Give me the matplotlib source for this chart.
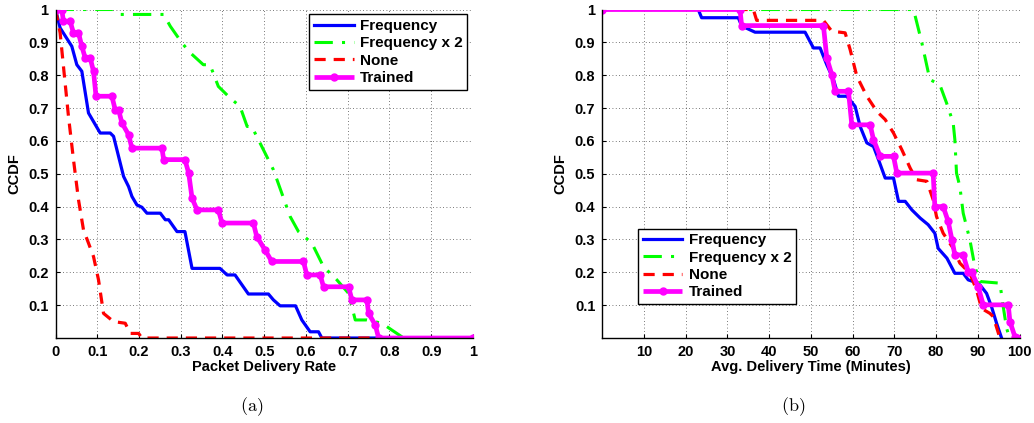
import matplotlib
matplotlib.use('Agg')
import matplotlib.pyplot as plt

plt.rcParams['font.family'] = ['Liberation Sans', 'DejaVu Sans']
plt.rcParams['font.weight'] = 'bold'
plt.rcParams['mathtext.fontset'] = 'cm'

# ---- (a) Packet delivery rate ----
pdr_freq_x = [0, 0.011, 0.039, 0.051, 0.063, 0.079, 0.107, 0.131, 0.139, 0.163, 0.175, 0.183,
              0.195, 0.207, 0.219, 0.251, 0.263, 0.271, 0.291, 0.310, 0.327, 0.394, 0.411, 0.430,
              0.462, 0.510, 0.522, 0.538, 0.575, 0.590, 0.610, 0.630, 0.638, 1.0]
pdr_freq_y = [1, 0.944, 0.888, 0.832, 0.812, 0.685, 0.624, 0.624, 0.614, 0.492, 0.461, 0.431,
              0.405, 0.398, 0.380, 0.380, 0.360, 0.360, 0.324, 0.324, 0.212, 0.212, 0.192, 0.192,
              0.134, 0.134, 0.116, 0.098, 0.098, 0.055, 0.019, 0.019, 0.0, 0.0]

pdr_freq2_x = [0, 0.139, 0.151, 0.259, 0.275, 0.303, 0.323, 0.354, 0.370, 0.390, 0.418, 0.442,
               0.459, 0.470, 0.502, 0.522, 0.542, 0.562, 0.582, 0.614, 0.642, 0.674, 0.702,
               0.718, 0.746, 0.782, 0.806, 0.834]
pdr_freq2_y = [1, 1, 0.985, 0.985, 0.949, 0.898, 0.868, 0.832, 0.832, 0.766, 0.731, 0.705,
               0.644, 0.644, 0.563, 0.512, 0.441, 0.370, 0.324, 0.289, 0.217, 0.177, 0.136,
               0.055, 0.055, 0.045, 0.024, 0.0]

pdr_none_x = [0, 0.011, 0.023, 0.031, 0.043, 0.055, 0.067, 0.076, 0.091, 0.103, 0.115, 0.139,
              0.167, 0.179, 0.199, 0.207, 1.0]
pdr_none_y = [1, 0.929, 0.776, 0.675, 0.543, 0.421, 0.329, 0.299, 0.248, 0.177, 0.075, 0.050,
              0.045, 0.014, 0.014, 0.0, 0.0]

pdr_trained_x = [0, 0.015, 0.019, 0.035, 0.043, 0.055, 0.063, 0.071, 0.083, 0.091, 0.097, 0.135,
                 0.143, 0.151, 0.159, 0.175, 0.183, 0.255, 0.259, 0.310, 0.319, 0.327, 0.339,
                 0.390, 0.399, 0.474, 0.482, 0.502, 0.518, 0.594, 0.602, 0.634, 0.642, 0.702,
                 0.710, 0.746, 0.750, 0.766, 0.774, 1.0]
pdr_trained_y = [1, 1, 0.964, 0.964, 0.929, 0.929, 0.888, 0.853, 0.853, 0.812, 0.736, 0.736,
                 0.695, 0.695, 0.655, 0.619, 0.578, 0.578, 0.543, 0.543, 0.502, 0.426, 0.390,
                 0.390, 0.350, 0.350, 0.309, 0.268, 0.233, 0.233, 0.192, 0.192, 0.156, 0.156,
                 0.116, 0.116, 0.075, 0.040, 0.0, 0.0]

# ---- (b) Avg delivery time ----
adt_freq_x = [0, 23.0, 23.8, 32.6, 33.4, 36.6, 48.6, 50.6, 52.2, 53.8, 55.4, 56.6, 58.6, 60.6,
              61.8, 63.4, 65.0, 66.2, 67.8, 69.8, 71.0, 72.6, 74.2, 76.2, 78.1, 79.7, 80.5,
              82.6, 84.5, 86.5, 87.7, 88.9, 90.5, 92.1, 93.3, 94.5, 95.7]
adt_freq_y = [1, 1, 0.975, 0.975, 0.95, 0.931, 0.931, 0.883, 0.883, 0.832, 0.787, 0.736, 0.736,
              0.705, 0.644, 0.594, 0.583, 0.543, 0.487, 0.487, 0.416, 0.416, 0.390, 0.365, 0.345,
              0.319, 0.273, 0.243, 0.197, 0.197, 0.177, 0.172, 0.162, 0.136, 0.095, 0.045, 0.0]

adt_freq2_x = [0, 74.6, 76.6, 78.5, 80.9, 82.5, 84.1, 84.5, 84.9, 85.7, 86.5, 88.1, 89.3, 90.5,
               95.3, 96.1, 96.9, 97.6]
adt_freq2_y = [1, 1, 0.898, 0.787, 0.771, 0.716, 0.655, 0.604, 0.502, 0.461, 0.380, 0.299,
               0.217, 0.172, 0.167, 0.095, 0.03, 0.0]

adt_none_x = [0, 36.2, 37.0, 53.0, 55.0, 58.2, 59.4, 61.0, 63.4, 65.8, 67.8, 69.8, 71.8, 73.8,
              75.3, 77.8, 79.3, 80.1, 81.7, 84.1, 85.7, 88.1, 89.7, 90.9, 92.9, 93.7, 95.3]
adt_none_y = [1, 1, 0.967, 0.967, 0.934, 0.929, 0.878, 0.797, 0.736, 0.690, 0.665, 0.624,
              0.573, 0.517, 0.482, 0.477, 0.421, 0.370, 0.319, 0.273, 0.228, 0.197, 0.146,
              0.090, 0.075, 0.065, 0.0]

adt_trained_x = [0, 33.0, 33.4, 53.0, 53.8, 55.0, 55.8, 59.0, 59.8, 64.2, 65.0, 66.6,
                 69.8, 70.6, 79.3, 79.7, 81.7, 82.9, 83.8, 84.5, 86.5, 87.7, 88.5, 90.1, 91.3,
                 97.3, 97.7, 98.9, 99.3]
adt_trained_y = [1, 1, 0.951, 0.951, 0.853, 0.802, 0.751, 0.751, 0.649, 0.649,
                 0.604, 0.553, 0.553, 0.502, 0.502, 0.400, 0.400, 0.355, 0.299, 0.253, 0.253,
                 0.202, 0.202, 0.156, 0.101, 0.101, 0.050, 0.004, 0.0]

labels = ['Frequency', 'Frequency x 2', 'None', 'Trained']
yticks = [0.1, 0.2, 0.3, 0.4, 0.5, 0.6, 0.7, 0.8, 0.9, 1]
ytick_labels = ['0.1', '0.2', '0.3', '0.4', '0.5', '0.6', '0.7', '0.8', '0.9', '1']

fig = plt.figure(figsize=(10.34, 4.23), dpi=100)
ax1 = fig.add_axes([0.0537, 0.2009, 0.4037, 0.7766])
ax2 = fig.add_axes([0.5825, 0.2009, 0.4035, 0.7766])


def draw(ax, data):
    (fx, fy), (f2x, f2y), (nx, ny), (tx, ty) = data
    ax.plot(fx, fy, color='#0000ff', lw=2.3, label=labels[0])
    ax.plot(f2x, f2y, color='#00ff00', lw=2.2, dashes=(6, 3, 1, 3), label=labels[1])
    ax.plot(nx, ny, color='#ff0000', lw=2.3, dashes=(3.5, 2.5), label=labels[2])
    # flat parts of the trained curve look like a thick band in the original
    ax.plot(tx, ty, color='#ff00ff', lw=3.4, marker='o', ms=5, label=labels[3],
            solid_capstyle='butt')
    ax.set_ylim(0, 1)
    ax.set_yticks(yticks)
    ax.set_yticklabels(ytick_labels, fontweight='bold')
    ax.grid(True, linestyle=(0, (1, 3)), color='k', lw=0.6, alpha=0.7)
    ax.spines['top'].set_visible(False)
    ax.spines['right'].set_visible(False)
    ax.spines['left'].set_linewidth(1.0)
    ax.spines['bottom'].set_linewidth(1.0)
    ax.tick_params(direction='in', length=3, labelsize=10.5, pad=5)
    ax.set_ylabel('CCDF', fontsize=10.5, fontweight='bold', labelpad=5)


draw(ax1, [(pdr_freq_x, pdr_freq_y), (pdr_freq2_x, pdr_freq2_y),
           (pdr_none_x, pdr_none_y), (pdr_trained_x, pdr_trained_y)])
ax1.set_xlim(0, 1)
ax1.set_xticks([0, 0.1, 0.2, 0.3, 0.4, 0.5, 0.6, 0.7, 0.8, 0.9, 1])
ax1.set_xticklabels(['0', '0.1', '0.2', '0.3', '0.4', '0.5', '0.6', '0.7', '0.8', '0.9', '1'],
                    fontweight='bold')
ax1.set_xlabel('Packet Delivery Rate', fontsize=10.5, fontweight='bold', labelpad=1)
leg1 = ax1.legend(loc='upper right', bbox_to_anchor=(0.986, 0.985), borderaxespad=0,
                  fancybox=False, edgecolor='k', framealpha=1, handlelength=2.6,
                  labelspacing=0.22, borderpad=0.3, handletextpad=0.4,
                  prop={'size': 11, 'weight': 'bold'})
leg1.get_frame().set_linewidth(1.0)

draw(ax2, [(adt_freq_x, adt_freq_y), (adt_freq2_x, adt_freq2_y),
           (adt_none_x, adt_none_y), (adt_trained_x, adt_trained_y)])
ax2.set_xlim(0, 100)
ax2.set_xticks([10, 20, 30, 40, 50, 60, 70, 80, 90, 100])
ax2.set_xticklabels(['10', '20', '30', '40', '50', '60', '70', '80', '90', '100'],
                    fontweight='bold')
ax2.set_xlabel('Avg. Delivery Time (Minutes)', fontsize=10.5, fontweight='bold', labelpad=1)
leg2 = ax2.legend(loc='lower left', bbox_to_anchor=(0.086, 0.104), borderaxespad=0,
                  fancybox=False, edgecolor='k', framealpha=1, handlelength=2.6,
                  labelspacing=0.22, borderpad=0.3, handletextpad=0.4,
                  prop={'size': 11, 'weight': 'bold'})
leg2.get_frame().set_linewidth(1.0)

fig.text(252 / 1034, 1 - 407 / 423, r'$\mathrm{(a)}$', ha='center', va='center', fontsize=13)
fig.text(793 / 1034, 1 - 407 / 423, r'$\mathrm{(b)}$', ha='center', va='center', fontsize=13)

fig.savefig('out.png', dpi=100)
